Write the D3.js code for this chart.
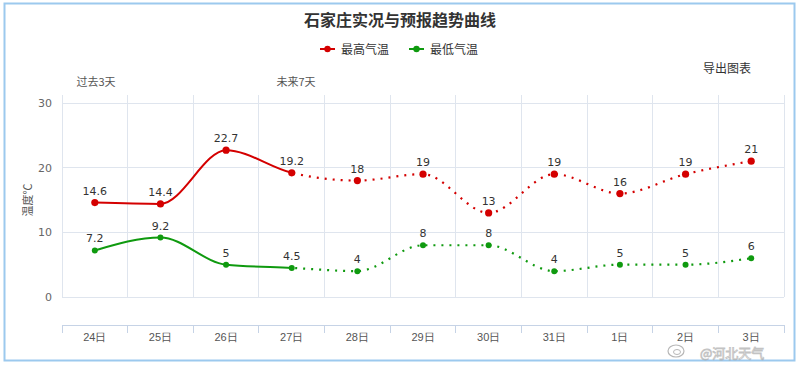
<!DOCTYPE html>
<html><head><meta charset="utf-8">
<script src="https://cdn.jsdelivr.net/npm/d3@7"></script>
<style>
html,body{margin:0;padding:0;background:#fff;}
svg{display:block;font-family:"Noto Sans CJK SC","Noto Sans",sans-serif;}
</style></head>
<body>
<svg id="c" width="800" height="365"></svg>
<script>
const days = ["24日","25日","26日","27日","28日","29日","30日","31日","1日","2日","3日"];
const highTemps = [14.6,14.4,22.7,19.2,18,19,13,19,16,19,21];
const lowTemps = [7.2,9.2,5,4.5,4,8,8,4,5,5,6];
const yTicks = [0,10,20,30];
const pastCount = 4; // solid through 27日

const svg = d3.select("#c");
const W = 800, H = 365;
// frame
svg.append("rect").attr("x",4.5).attr("y",3.5).attr("width",790).attr("height",357)
  .attr("fill","#fff").attr("stroke","#9cc9ee").attr("stroke-width",2);

const x = d3.scaleBand().domain(days).range([62,784]).padding(0);
const y = d3.scaleLinear().domain([0,30]).range([297,103]);
const cx = d => x(d) + x.bandwidth()/2;
const gridColor = "#dfe5ee";

// horizontal gridlines
svg.append("g").selectAll("line").data(yTicks).join("line")
  .attr("x1",62).attr("x2",784).attr("y1",d=>y(d)).attr("y2",d=>y(d))
  .attr("stroke",gridColor).attr("stroke-width",1).attr("shape-rendering","crispEdges");
// vertical gridlines at band boundaries
const bounds = days.map(d=>x(d)).concat([x.range()[1]]);
svg.append("g").selectAll("line").data(bounds).join("line")
  .attr("x1",d=>d).attr("x2",d=>d).attr("y1",95).attr("y2",297)
  .attr("stroke",gridColor).attr("stroke-width",1).attr("shape-rendering","crispEdges");

// y axis labels
const yAxis = d3.axisLeft(y).tickValues(yTicks).tickSize(0).tickPadding(10);
const gy = svg.append("g").attr("transform","translate(62,0)").call(yAxis);
gy.select(".domain").remove();
gy.selectAll("text").attr("fill","#666").attr("font-family","DejaVu Sans, sans-serif").attr("font-size",11);

// y title
svg.append("text").attr("transform","translate(32,200) rotate(-90)")
  .attr("text-anchor","middle").attr("font-size",11).attr("fill","#555").text("温度℃");

// x axis
const xAxis = d3.axisBottom(x).tickSize(0).tickPadding(8);
const gx = svg.append("g").attr("transform","translate(0,325)").call(xAxis);
gx.select(".domain").attr("stroke","#c6d3e6").attr("d","M62,0.5H784");
gx.selectAll("text").attr("fill","#555").attr("font-size",11);
svg.append("g").selectAll("line").data(bounds).join("line")
  .attr("x1",d=>d).attr("x2",d=>d).attr("y1",325).attr("y2",333)
  .attr("stroke","#c6d3e6").attr("shape-rendering","crispEdges");

// series
const series = [
  {name:"最高气温", values: highTemps, color:"#d40000", r:3.6},
  {name:"最低气温", values: lowTemps, color:"#0f9a0f", r:3}
];
const line = d3.line().x((v,i)=>cx(days[i])).y(v=>y(v)).curve(d3.curveMonotoneX);
const splitX = cx(days[pastCount-1]);
const defs = svg.append("defs");
defs.append("clipPath").attr("id","past").append("rect").attr("x",0).attr("y",0).attr("width",splitX).attr("height",H);
defs.append("clipPath").attr("id","future").append("rect").attr("x",splitX).attr("y",0).attr("width",W-splitX).attr("height",H);

series.forEach(s=>{
  const g = svg.append("g");
  g.append("path").attr("d",line(s.values)).attr("fill","none").attr("stroke",s.color)
    .attr("stroke-width",2).attr("clip-path","url(#past)");
  g.append("path").attr("d",line(s.values)).attr("fill","none").attr("stroke",s.color)
    .attr("stroke-width",2.2).attr("stroke-dasharray","2,6").attr("clip-path","url(#future)");
  g.selectAll("circle").data(s.values).join("circle")
    .attr("cx",(v,i)=>cx(days[i])).attr("cy",v=>y(v)).attr("r",s.r).attr("fill",s.color);
  g.selectAll("text").data(s.values).join("text")
    .attr("x",(v,i)=>cx(days[i])).attr("y",v=>y(v)-8).attr("text-anchor","middle")
    .attr("font-family","DejaVu Sans, sans-serif").attr("font-size",11).attr("fill","#333")
    .text(v=>v);
});

// title
svg.append("text").attr("x",400).attr("y",26).attr("text-anchor","middle")
  .attr("font-size",16).attr("font-weight","bold").attr("fill","#333").text("石家庄实况与预报趋势曲线");

// legend
const legend = [{x:320,s:series[0]},{x:409,s:series[1]}];
legend.forEach(l=>{
  const g = svg.append("g").attr("transform",`translate(${l.x},49)`);
  g.append("line").attr("x1",0).attr("x2",15).attr("y1",0).attr("y2",0).attr("stroke",l.s.color).attr("stroke-width",2);
  g.append("circle").attr("cx",7.5).attr("cy",0).attr("r",3.2).attr("fill",l.s.color);
  g.append("text").attr("x",21).attr("y",4.5).attr("font-size",12).attr("fill","#333").text(l.s.name);
});

// annotations
svg.append("text").attr("x",96).attr("y",86).attr("text-anchor","middle").attr("font-size",11).attr("fill","#555").text("过去3天");
svg.append("text").attr("x",296).attr("y",86).attr("text-anchor","middle").attr("font-size",11).attr("fill","#555").text("未来7天");
svg.append("text").attr("x",727).attr("y",73).attr("text-anchor","middle").attr("font-size",12).attr("fill","#333").text("导出图表");

// watermark
const wm = svg.append("g").attr("opacity",0.7);
wm.append("ellipse").attr("cx",676).attr("cy",351).attr("rx",8).attr("ry",6).attr("fill","none").attr("stroke","#999").attr("stroke-width",1.2);
wm.append("ellipse").attr("cx",677).attr("cy",352).attr("rx",3.5).attr("ry",2.5).attr("fill","none").attr("stroke","#999").attr("stroke-width",1);
wm.append("text").attr("x",700).attr("y",358).attr("font-size",13).attr("fill","#fff")
  .attr("stroke","#aaa").attr("stroke-width",0.8).text("@河北天气");
</script>
</body></html>
